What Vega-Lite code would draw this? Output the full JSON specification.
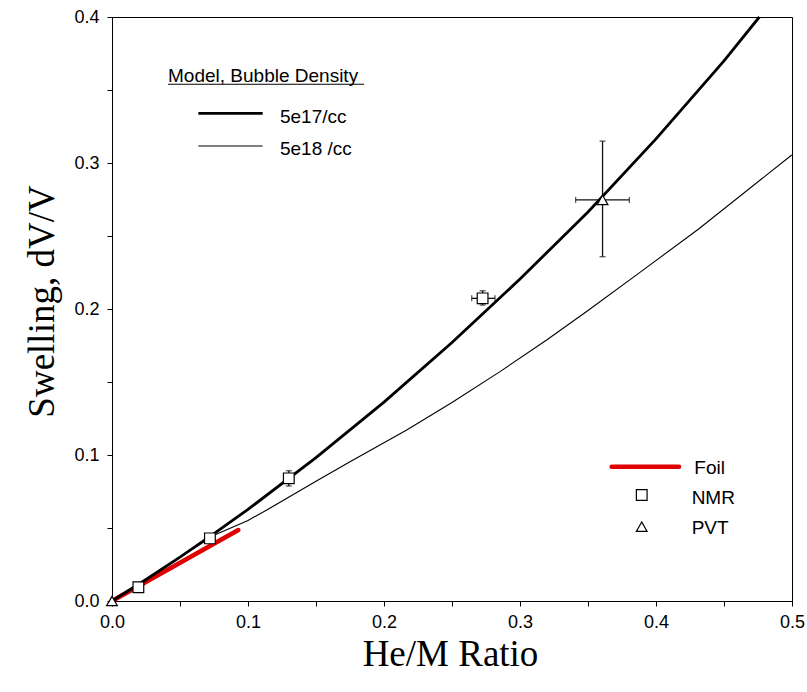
{
  "$schema": "https://vega.github.io/schema/vega-lite/v6.json",
  "autosize": {"type": "none"},
  "padding": {"left": 112, "top": 17, "right": 15, "bottom": 91},
  "width": 680,
  "height": 584,
  "background": "white",
  "config": {
    "view": {"stroke": "black", "strokeWidth": 1},
    "axis": {
      "grid": false,
      "domainColor": "black",
      "tickColor": "black",
      "tickSize": 5,
      "labelColor": "black",
      "labelFont": "Liberation Sans",
      "labelFontSize": 18,
      "labelFlush": false,
      "labelOverlap": false,
      "titleFont": "Liberation Serif",
      "titleFontSize": 37,
      "titleFontWeight": "normal",
      "titleColor": "black"
    }
  },
  "datasets": {
    "curves": [
      {"series": "5e17", "x": 0, "y": 0},
      {"series": "5e17", "x": 0.025, "y": 0.0147},
      {"series": "5e17", "x": 0.05, "y": 0.0301},
      {"series": "5e17", "x": 0.075, "y": 0.0461},
      {"series": "5e17", "x": 0.1, "y": 0.0627},
      {"series": "5e17", "x": 0.15, "y": 0.0982},
      {"series": "5e17", "x": 0.2, "y": 0.1362},
      {"series": "5e17", "x": 0.25, "y": 0.1770},
      {"series": "5e17", "x": 0.3, "y": 0.2205},
      {"series": "5e17", "x": 0.35, "y": 0.2665},
      {"series": "5e17", "x": 0.4, "y": 0.3165},
      {"series": "5e17", "x": 0.45, "y": 0.3700},
      {"series": "5e17", "x": 0.476, "y": 0.4},
      {"series": "5e18", "x": 0, "y": 0},
      {"series": "5e18", "x": 0.025, "y": 0.0147},
      {"series": "5e18", "x": 0.05, "y": 0.0300},
      {"series": "5e18", "x": 0.075, "y": 0.0450},
      {"series": "5e18", "x": 0.1, "y": 0.0552},
      {"series": "5e18", "x": 0.1138, "y": 0.0623},
      {"series": "5e18", "x": 0.15, "y": 0.0820},
      {"series": "5e18", "x": 0.175, "y": 0.0954},
      {"series": "5e18", "x": 0.2167, "y": 0.1171},
      {"series": "5e18", "x": 0.25, "y": 0.1360},
      {"series": "5e18", "x": 0.2853, "y": 0.1571},
      {"series": "5e18", "x": 0.3196, "y": 0.1788},
      {"series": "5e18", "x": 0.35, "y": 0.1990},
      {"series": "5e18", "x": 0.3882, "y": 0.2251},
      {"series": "5e18", "x": 0.4311, "y": 0.2546},
      {"series": "5e18", "x": 0.4998, "y": 0.3055},
      {"series": "Foil", "x": 0, "y": 0},
      {"series": "Foil", "x": 0.0929, "y": 0.0486}
    ],
    "nmr": [
      {"x": 0.0194, "y": 0.0094},
      {"x": 0.072, "y": 0.0429},
      {"x": 0.130, "y": 0.084},
      {"x": 0.2725, "y": 0.2073}
    ],
    "pvt": [
      {"x": 0, "y": 0},
      {"x": 0.3607, "y": 0.2747}
    ],
    "yerr": [
      {"x": 0.130, "ylo": 0.0788, "yhi": 0.0892},
      {"x": 0.2725, "ylo": 0.2027, "yhi": 0.2125},
      {"x": 0.3607, "ylo": 0.2358, "yhi": 0.315}
    ],
    "xerr": [
      {"y": 0.2073, "xlo": 0.2645, "xhi": 0.2816},
      {"y": 0.2747, "xlo": 0.3409, "xhi": 0.3804}
    ],
    "legLines": [
      {"key": "5e17", "x": 0.0635, "x2": 0.1108, "y": 0.334},
      {"key": "5e18", "x": 0.0635, "x2": 0.1108, "y": 0.3116},
      {"key": "Foil", "x": 0.3674, "x2": 0.4169, "y": 0.092},
      {"key": "under", "x": 0.0412, "x2": 0.1853, "y": 0.3539}
    ],
    "legText": [
      {"text": "Model, Bubble Density", "x": 0.0412, "y": 0.3596},
      {"text": "5e17/cc", "x": 0.1235, "y": 0.3313},
      {"text": "5e18 /cc", "x": 0.1235, "y": 0.3094},
      {"text": "Foil", "x": 0.4282, "y": 0.0909},
      {"text": "NMR", "x": 0.4262, "y": 0.0703},
      {"text": "PVT", "x": 0.4262, "y": 0.0498}
    ],
    "legSym": [
      {"shape": "square", "x": 0.3895, "y": 0.0726},
      {"shape": "triangle-up", "x": 0.3895, "y": 0.0509}
    ]
  },
  "encoding": {
    "x": {
      "type": "quantitative",
      "scale": {"domain": [0, 0.5], "nice": false, "zero": false},
      "axis": {
        "title": "He/M Ratio",
        "values": [0, 0.05, 0.1, 0.15, 0.2, 0.25, 0.3, 0.35, 0.4, 0.45, 0.5],
        "labelExpr": "round(datum.value*100) % 10 == 0 ? format(datum.value, '.1f') : ''",
        "labelPadding": 7,
        "titleX": 338,
        "titleY": 53,
        "titleBaseline": "middle",
        "titleAlign": "center"
      }
    },
    "y": {
      "type": "quantitative",
      "scale": {"domain": [0, 0.4], "nice": false, "zero": false},
      "axis": {
        "title": "Swelling, dV/V",
        "values": [0, 0.05, 0.1, 0.15, 0.2, 0.25, 0.3, 0.35, 0.4],
        "labelExpr": "round(datum.value*100) % 10 == 0 ? format(datum.value, '.1f') : ''",
        "labelPadding": 8,
        "titleX": -70,
        "titleY": 284,
        "titleAngle": -90,
        "titleBaseline": "middle",
        "titleAlign": "center"
      }
    }
  },
  "layer": [
    {
      "data": {"name": "curves"},
      "transform": [{"filter": "datum.series == '5e18'"}],
      "mark": {"type": "line", "color": "black", "strokeWidth": 1.1},
      "encoding": {"x": {"field": "x", "type": "quantitative"}, "y": {"field": "y", "type": "quantitative"}}
    },
    {
      "data": {"name": "curves"},
      "transform": [{"filter": "datum.series == 'Foil'"}],
      "mark": {"type": "line", "color": "#e00000", "strokeWidth": 4.5, "strokeCap": "round"},
      "encoding": {"x": {"field": "x", "type": "quantitative"}, "y": {"field": "y", "type": "quantitative"}}
    },
    {
      "data": {"name": "curves"},
      "transform": [{"filter": "datum.series == '5e17'"}],
      "mark": {"type": "line", "color": "black", "strokeWidth": 2.8},
      "encoding": {"x": {"field": "x", "type": "quantitative"}, "y": {"field": "y", "type": "quantitative"}}
    },
    {
      "data": {"name": "yerr"},
      "mark": {"type": "errorbar", "color": "#111", "thickness": 1.3, "ticks": {"size": 6, "color": "#111"}},
      "encoding": {"x": {"field": "x", "type": "quantitative"}, "y": {"field": "ylo", "type": "quantitative"}, "y2": {"field": "yhi"}}
    },
    {
      "data": {"name": "xerr"},
      "mark": {"type": "errorbar", "color": "#111", "thickness": 1.3, "ticks": {"size": 6, "color": "#111"}},
      "encoding": {"y": {"field": "y", "type": "quantitative"}, "x": {"field": "xlo", "type": "quantitative"}, "x2": {"field": "xhi"}}
    },
    {
      "data": {"name": "nmr"},
      "mark": {"type": "point", "shape": "square", "size": 115, "filled": false, "fill": "white", "fillOpacity": 1, "stroke": "black", "strokeWidth": 1.2, "opacity": 1},
      "encoding": {"x": {"field": "x", "type": "quantitative"}, "y": {"field": "y", "type": "quantitative"}}
    },
    {
      "data": {"name": "pvt"},
      "mark": {"type": "point", "shape": "triangle-up", "size": 115, "filled": false, "fill": "white", "fillOpacity": 1, "stroke": "black", "strokeWidth": 1.2, "opacity": 1},
      "encoding": {"x": {"field": "x", "type": "quantitative"}, "y": {"field": "y", "type": "quantitative"}}
    },
    {
      "data": {"name": "legLines"},
      "transform": [{"filter": "datum.key == '5e17'"}],
      "mark": {"type": "rule", "color": "black", "strokeWidth": 2.8},
      "encoding": {"x": {"field": "x", "type": "quantitative"}, "x2": {"field": "x2"}, "y": {"field": "y", "type": "quantitative"}}
    },
    {
      "data": {"name": "legLines"},
      "transform": [{"filter": "datum.key == '5e18' || datum.key == 'under'"}],
      "mark": {"type": "rule", "color": "black", "strokeWidth": 1.1},
      "encoding": {"x": {"field": "x", "type": "quantitative"}, "x2": {"field": "x2"}, "y": {"field": "y", "type": "quantitative"}}
    },
    {
      "data": {"name": "legLines"},
      "transform": [{"filter": "datum.key == 'Foil'"}],
      "mark": {"type": "rule", "color": "#e00000", "strokeWidth": 4.5, "strokeCap": "round"},
      "encoding": {"x": {"field": "x", "type": "quantitative"}, "x2": {"field": "x2"}, "y": {"field": "y", "type": "quantitative"}}
    },
    {
      "data": {"name": "legSym"},
      "mark": {"type": "point", "size": 115, "filled": false, "stroke": "black", "strokeWidth": 1.2, "opacity": 1},
      "encoding": {
        "x": {"field": "x", "type": "quantitative"},
        "y": {"field": "y", "type": "quantitative"},
        "shape": {"field": "shape", "type": "nominal", "scale": null}
      }
    },
    {
      "data": {"name": "legText"},
      "mark": {"type": "text", "align": "left", "baseline": "middle", "font": "Liberation Sans", "fontSize": 19, "color": "black"},
      "encoding": {
        "x": {"field": "x", "type": "quantitative"},
        "y": {"field": "y", "type": "quantitative"},
        "text": {"field": "text"}
      }
    }
  ]
}
